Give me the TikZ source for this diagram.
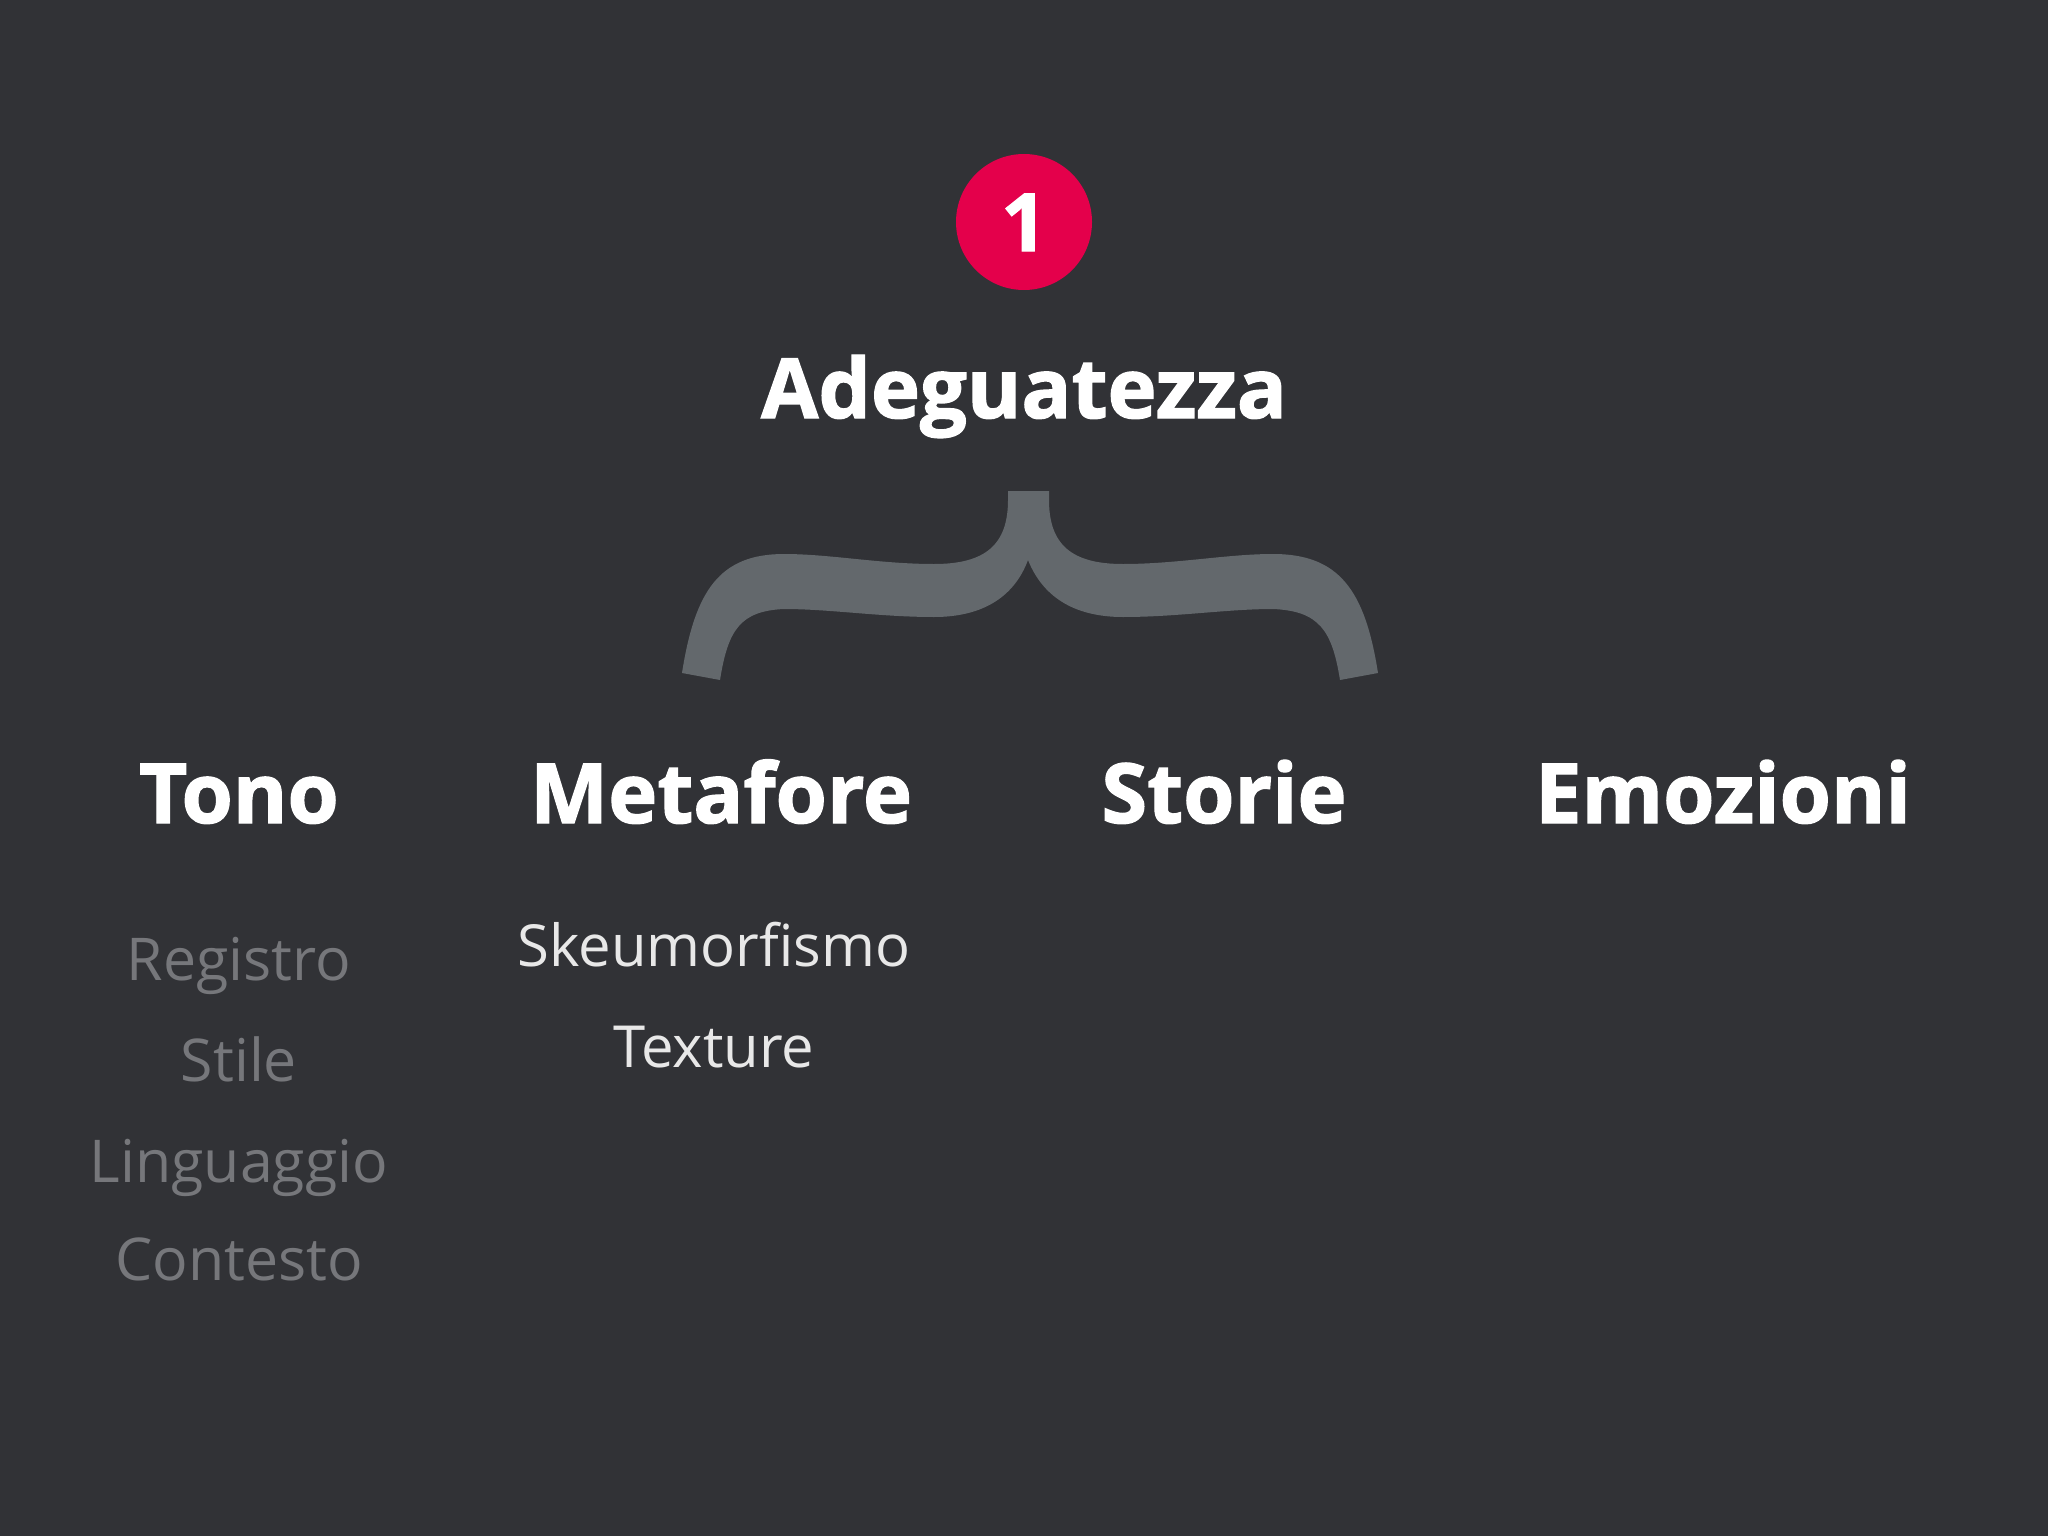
\documentclass[tikz,border=0pt]{standalone}
\usepackage{fontspec}
\setmainfont{Open Sans}
\newfontfamily\heavyfont{Open Sans}[BoldFeatures={FakeBold=1.6}]
\definecolor{bg}{HTML}{313236}
\definecolor{bracegray}{HTML}{63686C}
\definecolor{badgered}{HTML}{E4004B}
\definecolor{dimtext}{HTML}{76777B}
\definecolor{lighttext}{HTML}{E8E8E8}
\tikzset{
  heading/.style={anchor=base, text=white, inner sep=0pt, font=\heavyfont\bfseries\fontsize{83}{90}\selectfont},
  title/.style={anchor=base, text=white, inner sep=0pt, font=\heavyfont\bfseries\fontsize{83}{90}\selectfont},
  dimitem/.style={anchor=base, text=dimtext, inner sep=0pt, font=\fontsize{59}{66}\selectfont},
  lightitem/.style={anchor=base, text=lighttext, inner sep=0pt, font=\fontsize{58}{66}\selectfont},
}
\begin{document}
\begin{tikzpicture}[x=1pt,y=-1pt]
\fill[bg] (0,0) rectangle (2048,1536);
\useasboundingbox (0,0) rectangle (2048,1536);
% badge
\fill[badgered] (1024,222) circle (68);
\node[anchor=base, text=white, inner sep=0pt, font=\heavyfont\bfseries\fontsize{80}{90}\selectfont] (num) at (1024,251) {1};
\node[title] (title) at (1024,418) {Adeguatezza};
% brace
\fill[bracegray] (1008,491) -- (1008,500) .. controls (1008,545) and (985,564) .. (934,564)
  .. controls (880,564) and (830,554) .. (784,554)
  .. controls (720,554) and (695,590) .. (682,673)
  -- (720,680)
  .. controls (728,630) and (740,611) .. (784,609)
  .. controls (830,609) and (880,617) .. (934,617)
  .. controls (985,617) and (1015,595) .. (1028,560)
  .. controls (1042,595) and (1072,617) .. (1123,617)
  .. controls (1177,617) and (1227,609) .. (1273,609)
  .. controls (1319,611) and (1332,630) .. (1340,680)
  -- (1378,673)
  .. controls (1365,590) and (1339,554) .. (1273,554)
  .. controls (1227,554) and (1177,564) .. (1123,564)
  .. controls (1072,564) and (1049,545) .. (1049,500)
  -- (1049,491) -- cycle;
% headings
\node[heading] (tono) at (239,823) {Tono};
\node[heading] (metafore) at (721,823) {Metafore};
\node[heading] (storie) at (1224,823) {Storie};
\node[heading] (emozioni) at (1723,823) {Emozioni};
% tono items
\node[dimitem] (registro) at (239,980) {Registro};
\node[dimitem] (stile) at (239,1081) {Stile};
\node[dimitem] (linguaggio) at (239,1182) {Linguaggio};
\node[dimitem] (contesto) at (239,1280) {Contesto};
% metafore items
\node[lightitem] (skeu) at (714,966) {Skeumorfismo};
\node[lightitem] (texture) at (714,1067) {Texture};
\end{tikzpicture}
\end{document}
